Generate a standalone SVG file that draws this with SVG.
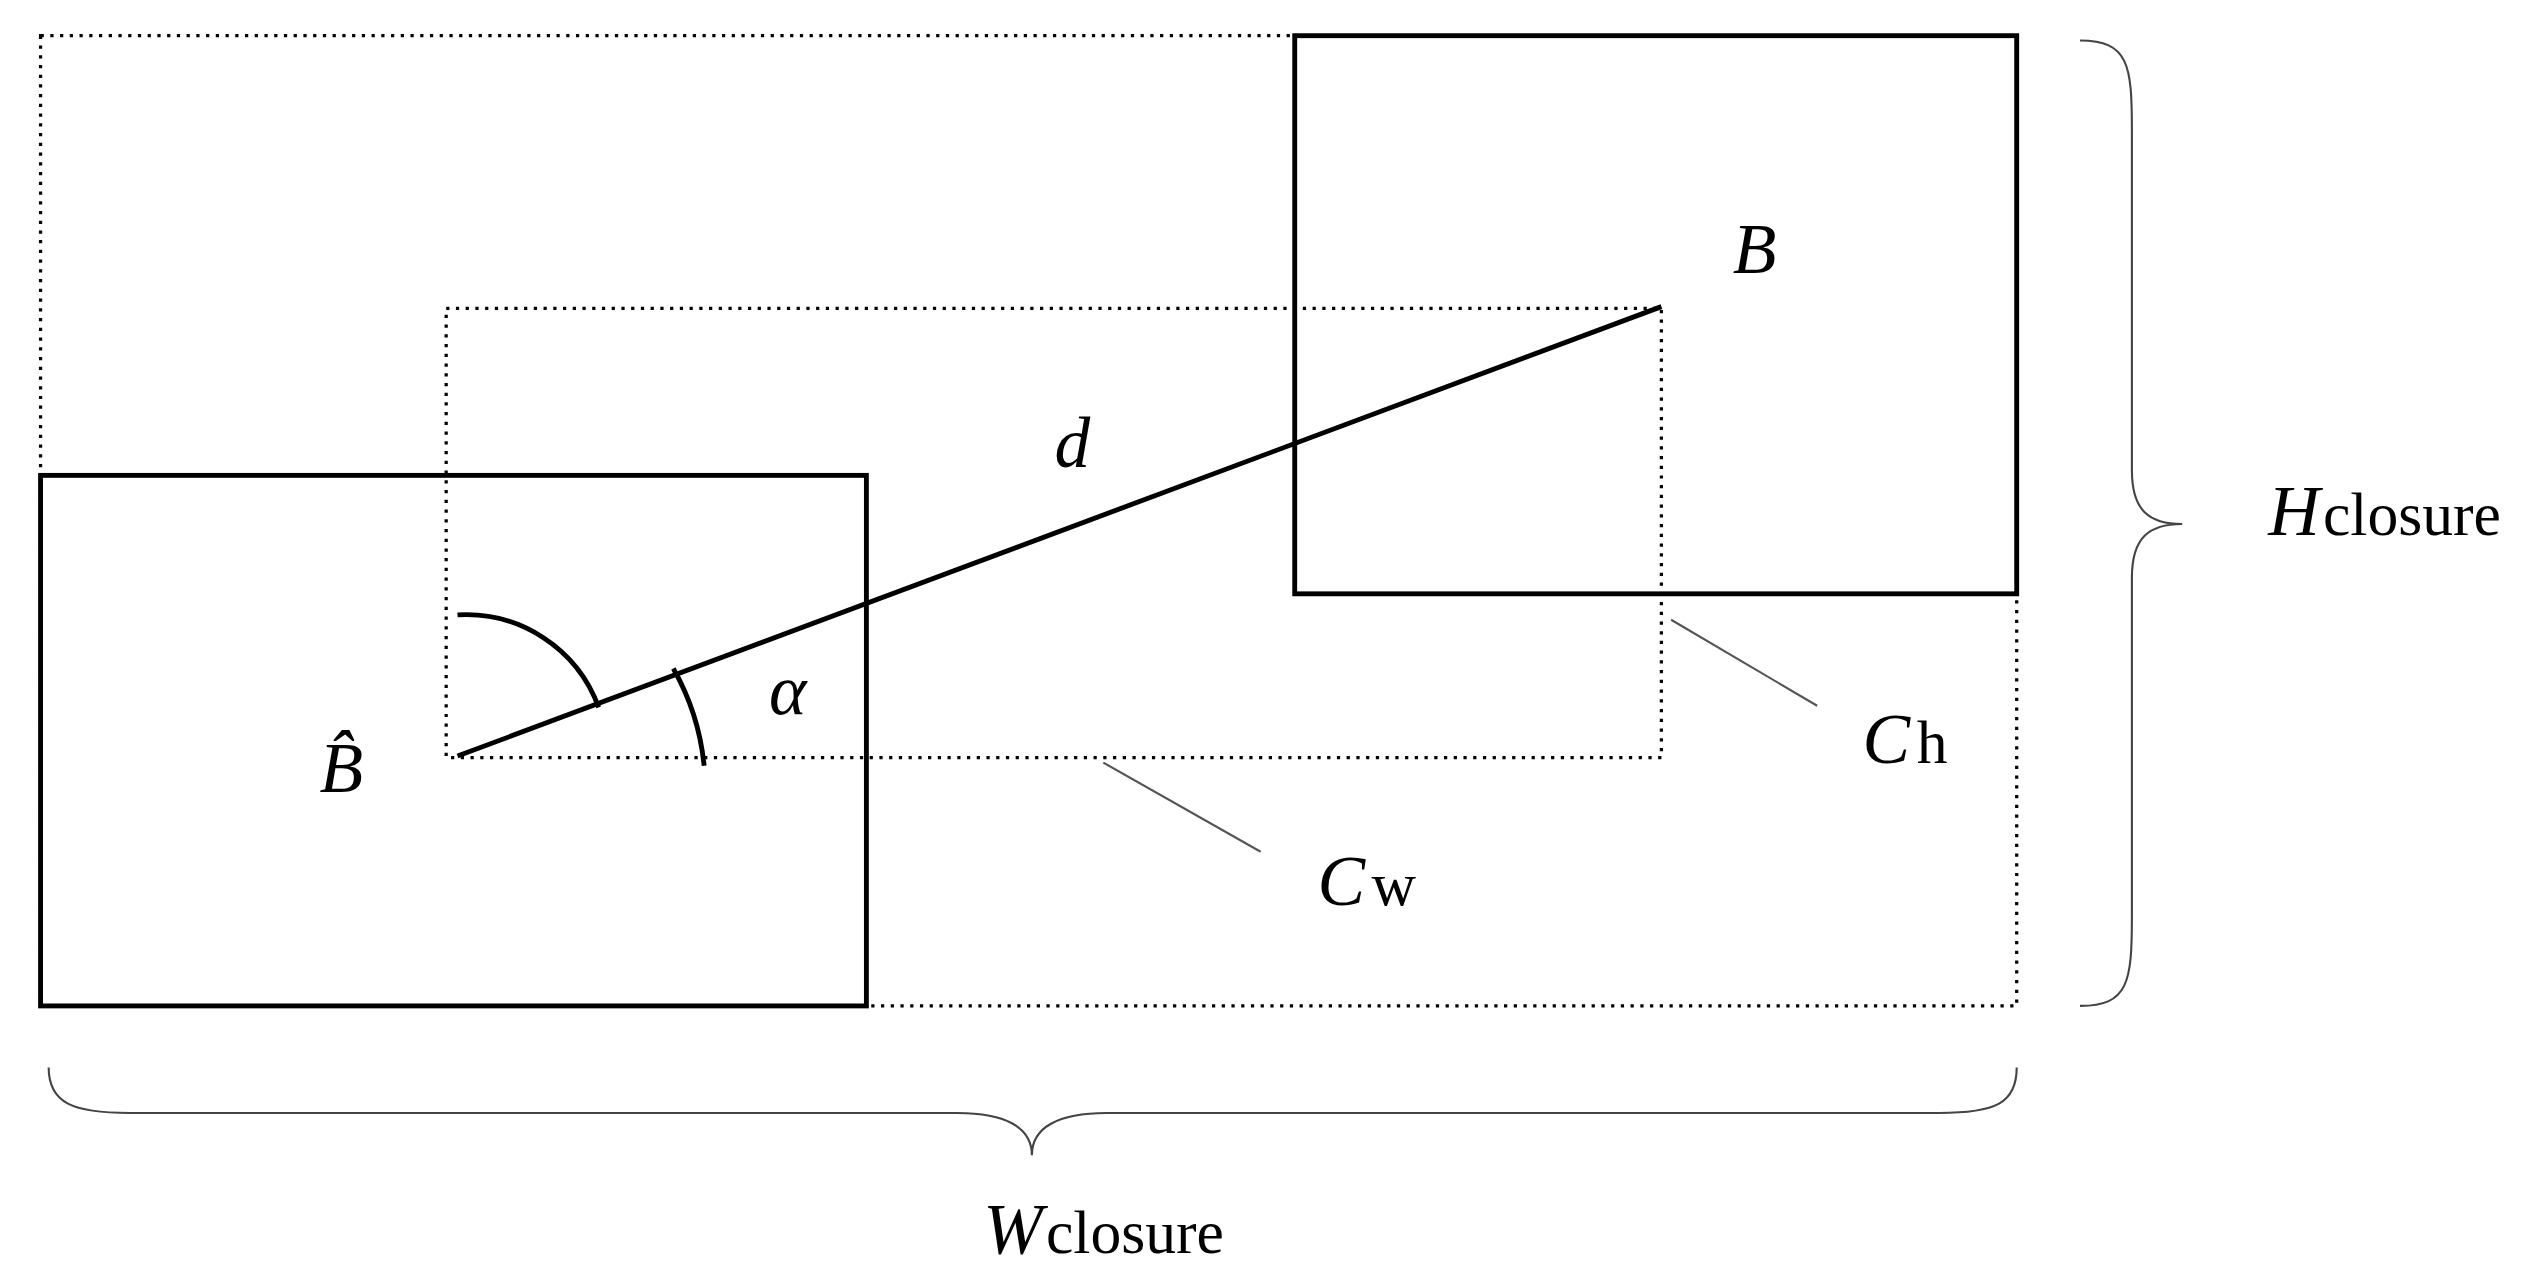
<svg xmlns="http://www.w3.org/2000/svg" width="2544" height="1278" viewBox="0 0 2544 1278">
<style>
.s{fill:none;stroke:#000;stroke-width:3}
.d{fill:none;stroke:#000;stroke-width:2;stroke-dasharray:2 4}
.t{font-family:"Liberation Serif",serif;font-style:italic;font-size:44px}
.sub{font-style:normal;font-size:38px}
.l{fill:none;stroke:#555;stroke-width:1.3}
</style>
<rect width="2544" height="1278" fill="#fff"/>
<g transform="scale(1.62245)">
<g id="closure"><rect class="d" x="25" y="22" width="1218" height="598"/></g>
<g id="inner"><rect class="d" x="275" y="190" width="749" height="277"/></g>
<g id="B"><rect class="s" x="798" y="22" width="445" height="344"/><text class="t" x="1068" y="168">B</text></g>
<g id="Bhat"><rect class="s" x="25" y="293" width="509" height="327"/><text class="t" x="197" y="488">B̂</text></g>
<g id="connectors">
<line class="s" x1="282" y1="466" x2="1024" y2="189"/>
<path class="s" d="M282,379 A87,87 0 0 1 369,436"/>
<path class="s" d="M415,412 A152,152 0 0 1 434,472"/>
<line class="l" x1="1030" y1="382" x2="1120" y2="435"/>
<line class="l" x1="680" y1="470" x2="777" y2="525"/>
<path class="l" style="stroke:#444" d="M1282,25 C1312,25 1314,40 1314,80 L1314,290 C1314,315 1325,323 1345,323 C1325,323 1314,331 1314,356 L1314,565 C1314,605 1312,620 1282,620"/>
<path class="l" style="stroke:#444" d="M30,658 C30,680 45,686 80,686 L590,686 C620,686 636,695 636,712 C636,695 652,686 682,686 L1195,686 C1230,686 1243,680 1243,658"/>
</g>
<g id="labels">
<text class="t" x="650" y="288">d</text>
<text class="t" x="474" y="440">α</text>
<text class="t" x="1148" y="470">C<tspan class="sub" dx="4">h</tspan></text>
<text class="t" x="812" y="558">C<tspan class="sub" dx="4">w</tspan></text>
<text class="t" x="1398" y="330">H<tspan class="sub" dx="2">closure</tspan></text>
<text class="t" x="606" y="772">W<tspan class="sub" dx="2">closure</tspan></text>
</g>
</g>
</svg>
